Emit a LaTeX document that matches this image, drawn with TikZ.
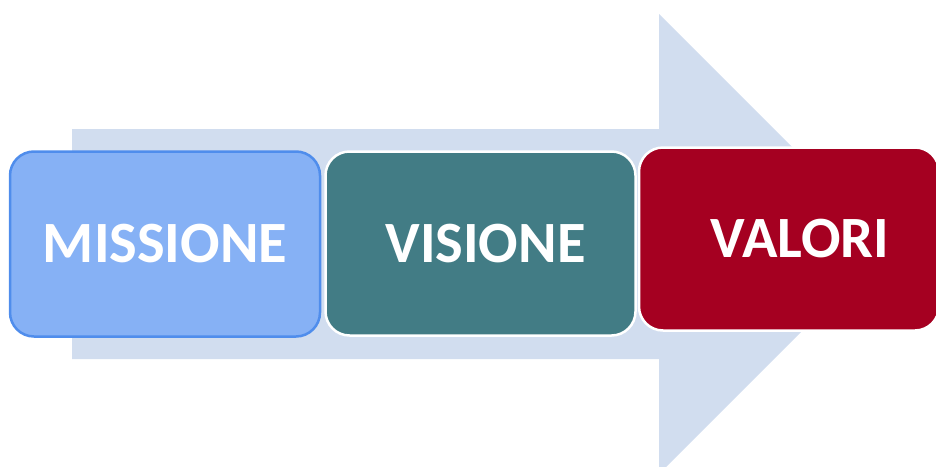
\documentclass[tikz,border=0pt]{standalone}
\usepackage{fontspec}
\setmainfont{Carlito}
\definecolor{arrowfill}{HTML}{D1DDEF}
\definecolor{missfill}{HTML}{86B1F5}
\definecolor{missdraw}{HTML}{4F8DEC}
\definecolor{visfill}{HTML}{427C85}
\definecolor{valfill}{HTML}{A50021}
\begin{document}
\begin{tikzpicture}[x=1pt,y=-1pt,
  box/.style={rectangle,rounded corners=24pt,line width=2.5pt,inner sep=0pt},
  label/.style={anchor=base,text=white,font=\fontsize{58.5}{58.5}\selectfont\bfseries,inner sep=0pt}]
\useasboundingbox (0,0) rectangle (936,466);
\clip (0,0) rectangle (936,466);
\fill[arrowfill] (72,129) -- (659,129) -- (659,14) -- (889,244) -- (659,474) -- (659,359) -- (72,359) -- cycle;
\node[box,fill=missfill,draw=missdraw,minimum width=310pt,minimum height=185pt] (miss) at (165,244) {};
\node[box,fill=visfill,draw=white,minimum width=310pt,minimum height=184pt] (vis) at (480.5,243.5) {};
\node[box,fill=valfill,draw=white,minimum width=300pt,minimum height=183pt] (val) at (789,239) {};
\node[label] (misst) at (165,262) {MISSIONE};
\node[label] (vist) at (485.5,262) {VISIONE};
\node[label] (valt) at (800,257) {VALORI};
\end{tikzpicture}
\end{document}
